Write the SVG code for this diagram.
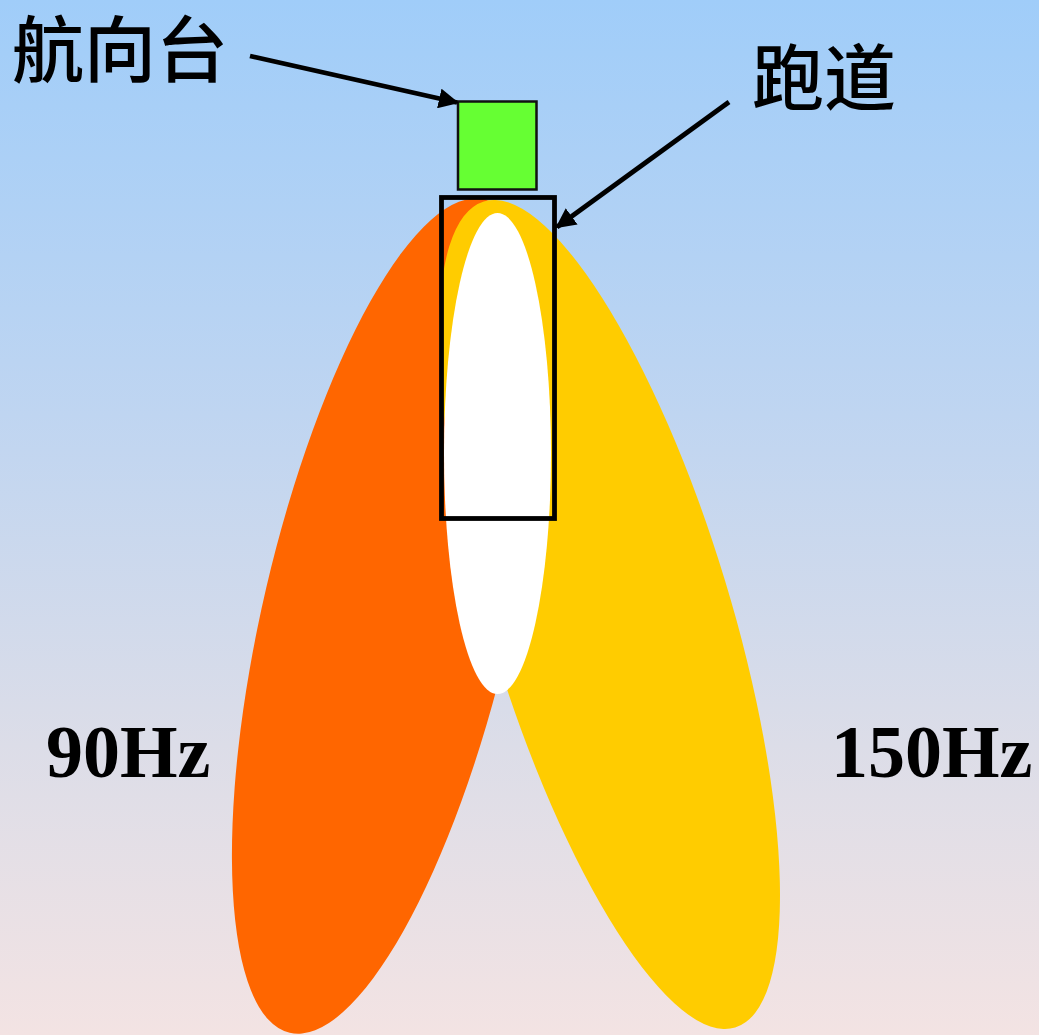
<svg xmlns="http://www.w3.org/2000/svg" width="1039" height="1035" viewBox="0 0 1039 1035">
  <defs>
    <linearGradient id="bg" x1="0" y1="0" x2="0" y2="1">
      <stop offset="0" stop-color="#a0cdf9"/>
      <stop offset="0.4" stop-color="#bfd5f1"/>
      <stop offset="0.72" stop-color="#dcdde8"/>
      <stop offset="1" stop-color="#f3e3e3"/>
    </linearGradient>
    <marker id="arr" viewBox="0 0 10 10" refX="9" refY="5" markerWidth="4.2" markerHeight="4.2" orient="auto" markerUnits="strokeWidth">
      <path d="M0,0 L10,5 L0,10 Z" fill="#000"/>
    </marker>
    <style>
      .cjk { font-family: "Noto Sans CJK SC", "Noto Sans CJK TC", sans-serif; font-size: 72px; font-weight: 500; fill: #000; }
      .hz { font-family: "Liberation Serif", "Times New Roman", serif; font-weight: bold; font-size: 74px; fill: #000; }
      .conn { stroke: #000; stroke-width: 4.8; fill: none; marker-end: url(#arr); }
    </style>
  </defs>
  <rect x="0" y="0" width="1039" height="1035" fill="url(#bg)"/>

  <g id="lobe-90">
    <ellipse cx="387" cy="616" rx="124" ry="428" transform="rotate(13.14 387 616)" fill="#ff6600"/>
  </g>
  <g id="lobe-150">
    <ellipse cx="609.5" cy="614.5" rx="120.4" ry="431.7" transform="rotate(-16.93 609.5 614.5)" fill="#ffcc00"/>
  </g>
  <g id="course">
    <ellipse cx="497.5" cy="453.5" rx="53.5" ry="240.5" fill="#ffffff"/>
  </g>
  <g id="runway">
    <rect x="441.5" y="197.5" width="113" height="321" fill="none" stroke="#000" stroke-width="4.8"/>
  </g>
  <g id="localizer">
    <rect x="458" y="101.5" width="78.5" height="88" fill="#66ff33" stroke="#111" stroke-width="2.5"/>
  </g>

  <g id="connectors">
    <line class="conn" x1="250" y1="56" x2="457" y2="102.5"/>
    <line class="conn" x1="729" y1="102" x2="557" y2="227"/>
  </g>

  <g id="labels">
    <text class="cjk" x="12" y="76">航向台</text>
    <text class="cjk" x="752" y="104">跑道</text>
    <text class="hz" x="46" y="777">90Hz</text>
    <text class="hz" x="831" y="777">150Hz</text>
  </g>
</svg>
